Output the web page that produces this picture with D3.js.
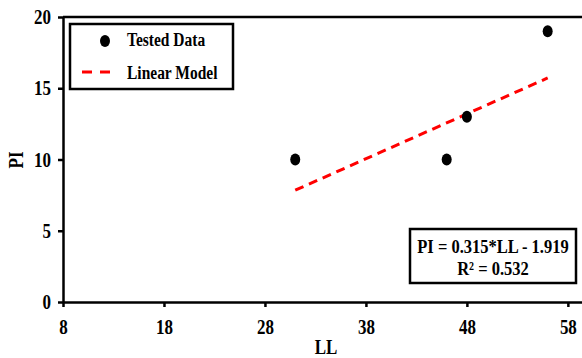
<!DOCTYPE html>
<html><head><meta charset="utf-8">
<script src="https://cdn.jsdelivr.net/npm/d3@7"></script>
<style>html,body{margin:0;padding:0;background:#fff;}svg{display:block;}
svg text{font-family:"Liberation Serif","Times New Roman",Times,serif !important;font-weight:bold;}</style>
</head><body>
<svg id="c" width="582" height="358"></svg>
<script>
const llValues = [31, 46, 48, 56];
const piValues = [10, 10, 13, 19];
const xTicks = [8, 18, 28, 38, 48, 58];
const yTicks = [0, 5, 10, 15, 20];
const modelSlope = 0.315, modelIntercept = -1.919;
const modelRange = [31, 56];
const legendLabels = ["Tested Data", "Linear Model"];
const eqLines = ["PI = 0.315*LL - 1.919", "R² = 0.532"];

const SY = 1.2; // vertical stretch of text as in reference
const svg = d3.select("#c");
const x = d3.scaleLinear().domain([8, 59.4]).range([63, 582]);
const y = d3.scaleLinear().domain([0, 20]).range([302, 17]);

function label(g, tx, ty, txt, size, anchor, rot) {
  return g.append("text")
    .attr("transform", `translate(${tx},${ty})` + (rot ? ` rotate(${rot})` : "") + ` scale(1,${SY})`)
    .attr("text-anchor", anchor || "start").attr("font-size", size).attr("fill", "#000").text(txt);
}

svg.append("line").attr("x1", 63).attr("x2", 582).attr("y1", 17).attr("y2", 17)
  .attr("stroke", "#000").attr("stroke-width", 2.5);

const xa = svg.append("g").attr("transform", "translate(0,302)")
  .call(d3.axisBottom(x).tickValues(xTicks).tickSize(5).tickSizeOuter(0));
const ya = svg.append("g").attr("transform", "translate(63,0)")
  .call(d3.axisLeft(y).tickValues(yTicks).tickSize(5).tickSizeOuter(0));
[xa, ya].forEach(a => {
  a.attr("font-family", null);
  a.select(".domain").attr("stroke", "#000").attr("stroke-width", 2.5);
  a.selectAll(".tick line").attr("stroke", "#000").attr("stroke-width", 2.5);
  a.selectAll("text").attr("font-size", 17).attr("fill", "#000").attr("x", 0).attr("y", 0).attr("dy", null);
});
xa.selectAll(".tick text").attr("transform", `translate(0,32) scale(1,${SY})`);
ya.selectAll(".tick text").attr("transform", `translate(-12,6.5) scale(1,${SY})`);

label(svg, 326, 354, "LL", 17, "middle");
label(svg, 23, 160, "PI", 17, "middle", -90);

svg.append("line")
  .attr("x1", x(modelRange[0])).attr("y1", y(modelSlope * modelRange[0] + modelIntercept))
  .attr("x2", x(modelRange[1])).attr("y2", y(modelSlope * modelRange[1] + modelIntercept))
  .attr("stroke", "#ff0000").attr("stroke-width", 3).attr("stroke-dasharray", "9,6");

svg.selectAll("ellipse.pt").data(llValues.map((v, i) => [v, piValues[i]])).enter()
  .append("ellipse").attr("class", "pt")
  .attr("cx", d => x(d[0])).attr("cy", d => y(d[1])).attr("rx", 5).attr("ry", 6).attr("fill", "#000");

const lg = svg.append("g");
lg.append("rect").attr("x", 70).attr("y", 24).attr("width", 163).attr("height", 65)
  .attr("fill", "#fff").attr("stroke", "#000").attr("stroke-width", 2.5);
lg.append("ellipse").attr("cx", 105).attr("cy", 41).attr("rx", 5).attr("ry", 6).attr("fill", "#000");
lg.append("line").attr("x1", 82).attr("x2", 115).attr("y1", 72).attr("y2", 72)
  .attr("stroke", "#ff0000").attr("stroke-width", 3).attr("stroke-dasharray", "10,8");
legendLabels.forEach((t, i) => label(lg, 127, [46, 78.5][i], t, 15.5));

const eq = svg.append("g");
eq.append("rect").attr("x", 410).attr("y", 229).attr("width", 166).attr("height", 54)
  .attr("fill", "#fff").attr("stroke", "#000").attr("stroke-width", 2.5);
eqLines.forEach((t, i) => label(eq, 493, [252.5, 275][i], t, 16.5, "middle"));
</script>
</body></html>
